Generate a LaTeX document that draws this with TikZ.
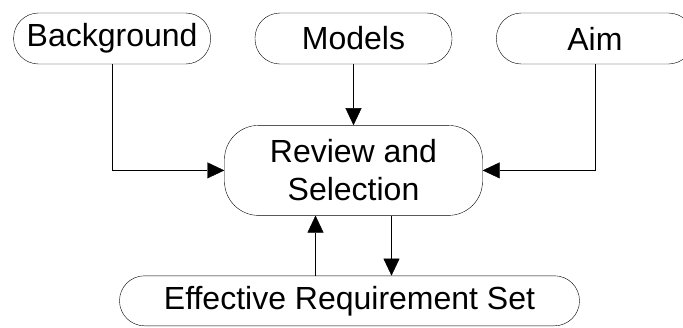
\documentclass[tikz,border=0pt]{standalone}
\usepackage{fontspec}
\setmainfont{Liberation Sans}
\usepackage{tikz}
\usetikzlibrary{
  arrows.meta,
  positioning,  % Function "of" (e.g. [right=of x])
}
\def\myhdist{44pt}
\def\myvdist{60pt}
\tikzset{
  x=1pt,
  y=1pt,
  line width=2pt,
  my flow/.style={
    -{Triangle[length=17pt,width=16pt]}
  },
  my stage/.style={
    draw,
    font=\fontsize{32}{38}\selectfont,
    align=center,
    inner sep=0pt,
    minimum width=197pt,
    minimum height=51pt,
    rounded corners=25pt,
    rectangle
  },
  my stage big/.style={
    my stage,
    minimum width=258pt,
    minimum height=90pt,
    rounded corners=34pt
  }
}
\begin{document}
\begin{tikzpicture}[node distance=\myvdist and \myhdist]
\useasboundingbox (0,0) rectangle (683,-327);
\node[my stage]     (models) at (353.5,-38.5) {Models};
\node[my stage]     (backgr) [left=of models] {Background};
\node[my stage]     (aim)    [right=of models] {Aim};
\node[my stage big] (review) [below=61pt of models] {Review and\\Selection};
\node[my stage,minimum width=460pt,minimum height=50pt]
                    (reqset) [below=of review,xshift=-4pt] {Effective Requirement Set};
\draw[my flow] (backgr.south) |- (review.west);
\draw[my flow] (aim.south) |- (review.east);
\draw[my flow] (models) -- (review);
\draw[my flow] ([xshift=-38pt]review.south |- reqset.north) -- ([xshift=-38pt]review.south);
\draw[my flow] ([xshift=38pt]review.south) -- ([xshift=38pt]review.south |- reqset.north);
\end{tikzpicture}
\end{document}
